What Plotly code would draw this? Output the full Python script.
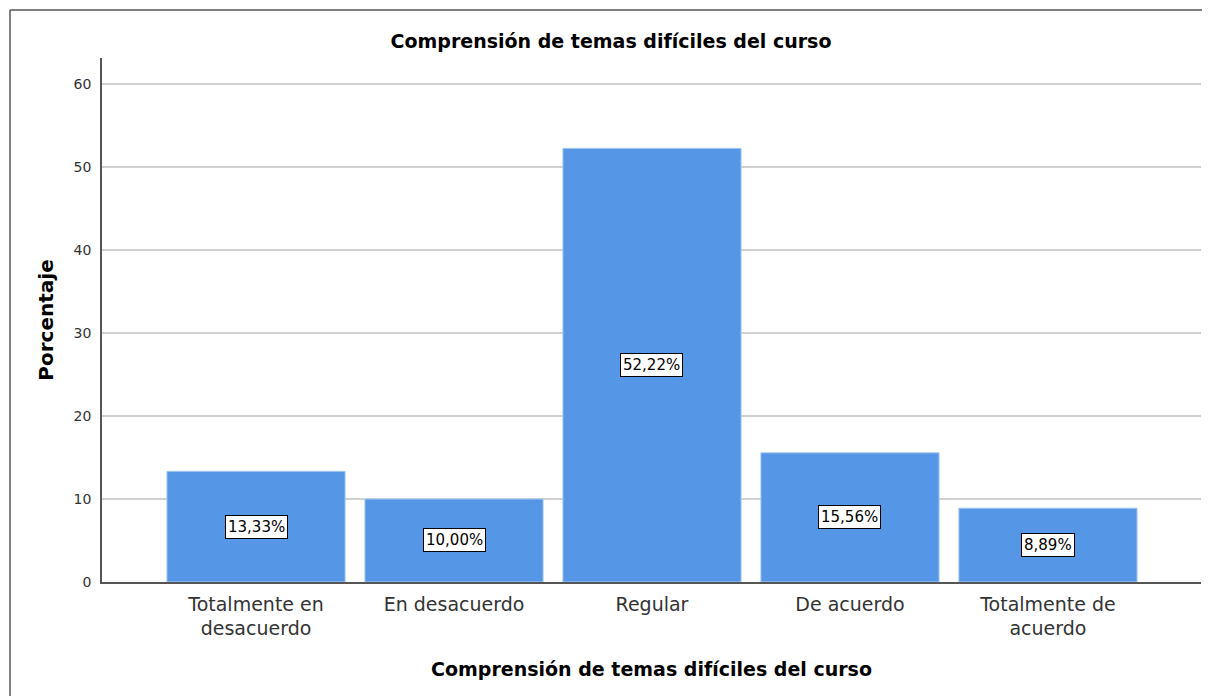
import plotly.graph_objects as go

categories = ["Totalmente en<br>desacuerdo", "En desacuerdo", "Regular", "De acuerdo", "Totalmente de<br>acuerdo"]
percentages = [13.33, 10.00, 52.22, 15.56, 8.89]
labels = ["13,33%", "10,00%", "52,22%", "15,56%", "8,89%"]

FONT = "DejaVu Sans, Liberation Sans, Arial, sans-serif"

# The page body has an 8px default margin, so figure coords = reference coords - 8
OFF = 8
W, H = 1210 - OFF, 696 - OFF
L, R, T, B = 102 - OFF, 9, 58 - OFF, 114
pw, ph = W - L - R, H - T - B

fig = go.Figure()
fig.add_trace(go.Bar(
    x=list(range(len(categories))), y=percentages,
    width=0.9,
    marker=dict(color="#5596E6", line=dict(color="#A9CBF2", width=1)),
    hoverinfo="skip",
))

for i, (v, lab) in enumerate(zip(percentages, labels)):
    fig.add_annotation(
        x=i, y=v / 2, text=lab, showarrow=False,
        font=dict(family=FONT, size=15, color="black"),
        bgcolor="white", bordercolor="black", borderwidth=1, borderpad=2,
    )

# outer border lines (top and left)
bx = 10 - OFF
fig.add_shape(type="line", xref="paper", yref="paper",
              x0=(bx - L) / pw, x1=(W + 5 - L) / pw,
              y0=1 + (T - bx) / ph, y1=1 + (T - bx) / ph,
              line=dict(color="#555555", width=1.5))
fig.add_shape(type="line", xref="paper", yref="paper",
              x0=(bx - L) / pw, x1=(bx - L) / pw,
              y0=1 + (T - bx) / ph, y1=-(B + 5) / ph,
              line=dict(color="#555555", width=1.5))

fig.update_layout(
    width=W, height=H,
    margin=dict(l=L, r=R, t=T, b=B),
    paper_bgcolor="white", plot_bgcolor="white",
    showlegend=False,
    title=dict(text="<b>Comprensión de temas difíciles del curso</b>",
               x=(611 - OFF) / W, xanchor="center", y=1 - (41 - OFF) / H, yanchor="middle",
               font=dict(family=FONT, size=19, color="black")),
    xaxis=dict(
        tickmode="array", tickvals=list(range(len(categories))), ticktext=categories,
        range=[-0.778, 4.773],
        showgrid=False, zeroline=False,
        showline=True, linecolor="#555555", linewidth=1.5,
        ticks="", ticklabelstandoff=4,
        tickfont=dict(family=FONT, size=19, color="#333333"),
        title=dict(text="<b>Comprensión de temas difíciles del curso</b>",
                   font=dict(family=FONT, size=19, color="black"), standoff=24),
    ),
    yaxis=dict(
        range=[0, 63.1], tickvals=[0, 10, 20, 30, 40, 50, 60],
        showgrid=True, gridcolor="#D0D0D0", gridwidth=1.5,
        zeroline=False,
        showline=True, linecolor="#555555", linewidth=1.5,
        ticks="outside", ticklen=6, tickcolor="rgba(0,0,0,0)",
        tickfont=dict(family=FONT, size=14, color="#333333"),
        title=dict(text="<b>Porcentaje</b>",
                   font=dict(family=FONT, size=20, color="black"), standoff=15),
    ),
)

fig.write_html("out.html")
